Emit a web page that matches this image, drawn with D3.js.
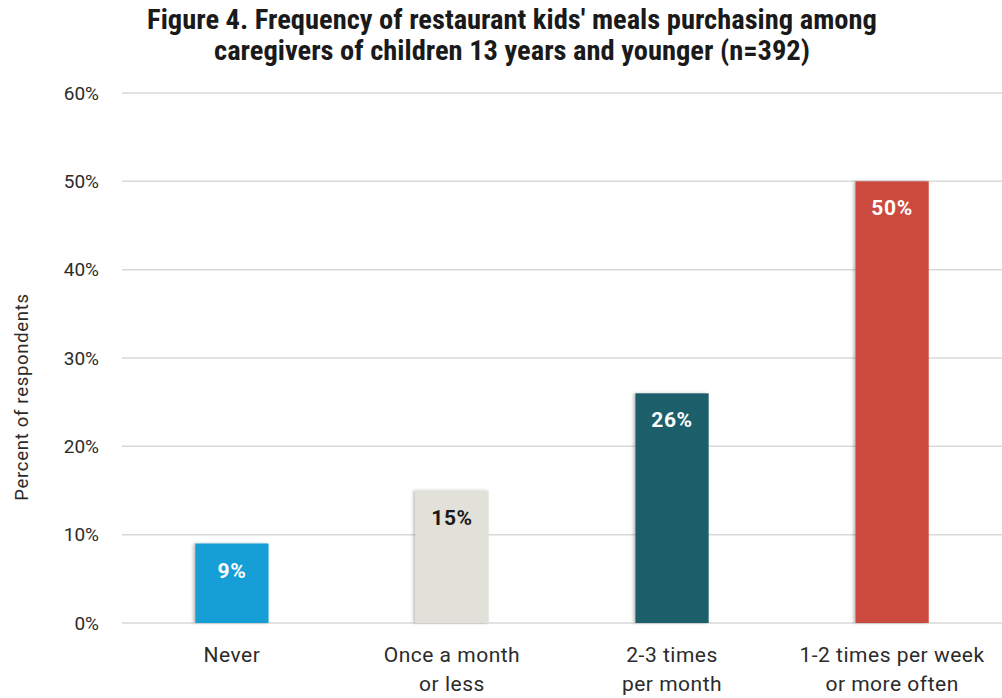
<!DOCTYPE html>
<html>
<head>
<meta charset="utf-8">
<script src="https://cdn.jsdelivr.net/npm/d3@7"></script>
<style>
  body { margin: 0; background: #fff; }
  svg { display: block; }
</style>
</head>
<body>
<div class="graph"></div>
<script>
// Figure 4 - kids' meals purchasing frequency

var categories = ["Never", "Once a month\nor less", "2-3 times\nper month", "1-2 times per week\nor more often"];
var values = [9, 15, 26, 50];
var bar_colors = ["#139FD6", "#E2E1D9", "#1E5E6B", "#CC4A3C"];
var label_colors = ["#ffffff", "#1a1a1a", "#ffffff", "#ffffff"];
var y_ticks = [0, 10, 20, 30, 40, 50, 60];
var title_lines = ["Figure 4. Frequency of restaurant kids' meals purchasing among",
                   "caregivers of children 13 years and younger (n=392)"];

var width = 1002, height = 698;
var margin = { top: 93, bottom: 75, left: 122, right: 0 };
var font = 'Roboto, "Liberation Sans", sans-serif';

var svg = d3.select('.graph').append('svg')
    .attr('width', width)
    .attr('height', height);

// soft shadow on the bars, like the original
var defs = svg.append('defs');
var filter = defs.append('filter').attr('id', 'shadow')
    .attr('x', '-20%').attr('y', '-5%').attr('width', '140%').attr('height', '110%');
filter.append('feDropShadow')
    .attr('dx', -2).attr('dy', 0).attr('stdDeviation', 1.5)
    .attr('flood-color', '#000').attr('flood-opacity', 0.25);

var xScale = d3.scaleBand()
    .domain(categories)
    .range([margin.left, width - margin.right])
    .paddingInner(0.667)
    .paddingOuter(0.333);

var yScale = d3.scaleLinear()
    .domain([0, 60])
    .range([height - margin.bottom, margin.top]);

// gridlines
svg.append('g')
    .selectAll('line')
    .data(y_ticks)
    .enter()
    .append('line')
    .attr('x1', margin.left)
    .attr('x2', width - margin.right)
    .attr('y1', function(d) { return yScale(d); })
    .attr('y2', function(d) { return yScale(d); })
    .style('stroke', '#d9d9d9')
    .attr('stroke-width', 1.5);

// y axis labels
var yAxis = d3.axisLeft(yScale)
    .tickValues(y_ticks)
    .tickFormat(function(d) { return d + '%'; })
    .tickSize(0)
    .tickPadding(23);

var yg = svg.append('g')
    .attr('transform', 'translate(' + margin.left + ',0)')
    .call(yAxis);
yg.select('.domain').remove();
yg.selectAll('text')
    .attr('font-family', font)
    .attr('font-size', '19px')
    .attr('fill', '#2b2b2b');

// y title
svg.append('text')
    .attr('transform', 'translate(28,397) rotate(-90)')
    .attr('text-anchor', 'middle')
    .attr('font-family', font)
    .attr('font-size', '18.5px')
    .attr('letter-spacing', '0.7px')
    .attr('fill', '#2b2b2b')
    .text('Percent of respondents');

// bars
svg.append('g')
    .selectAll('rect')
    .data(values)
    .enter()
    .append('rect')
    .attr('x', function(d, i) { return xScale(categories[i]); })
    .attr('y', function(d) { return yScale(d); })
    .attr('width', xScale.bandwidth())
    .attr('height', function(d) { return yScale(0) - yScale(d); })
    .attr('filter', 'url(#shadow)')
    .style('fill', function(d, i) { return bar_colors[i]; });

// bar value labels
svg.append('g')
    .selectAll('text')
    .data(values)
    .enter()
    .append('text')
    .attr('x', function(d, i) { return xScale(categories[i]) + xScale.bandwidth() / 2; })
    .attr('y', function(d) { return yScale(d) + 34; })
    .attr('text-anchor', 'middle')
    .attr('font-family', font)
    .attr('font-weight', 'bold')
    .attr('font-size', '21px')
    .attr('letter-spacing', '0.6px')
    .style('fill', function(d, i) { return label_colors[i]; })
    .text(function(d) { return d + '%'; });

// x category labels
var xl = svg.append('g')
    .selectAll('text')
    .data(categories)
    .enter()
    .append('text')
    .attr('text-anchor', 'middle')
    .attr('font-family', font)
    .attr('font-size', '21px')
    .attr('letter-spacing', '0.5px')
    .attr('fill', '#2b2b2b');
xl.each(function(d) {
    var t = d3.select(this);
    var cx = xScale(d) + xScale.bandwidth() / 2;
    d.split('\n').forEach(function(line, k) {
        t.append('tspan').attr('x', cx).attr('y', 662 + k * 29).text(line);
    });
});

// title
svg.append('g')
    .selectAll('text')
    .data(title_lines)
    .enter()
    .append('text')
    .attr('x', 512)
    .attr('y', function(d, i) { return 29 + i * 31; })
    .attr('text-anchor', 'middle')
    .attr('font-family', '"Liberation Sans Narrow", "Roboto Condensed", Roboto, sans-serif')
    .attr('font-weight', 'bold')
    .attr('font-size', '28.5px')
    .attr('fill', '#1a1a1a')
    .text(function(d) { return d; });
</script>
</body>
</html>
